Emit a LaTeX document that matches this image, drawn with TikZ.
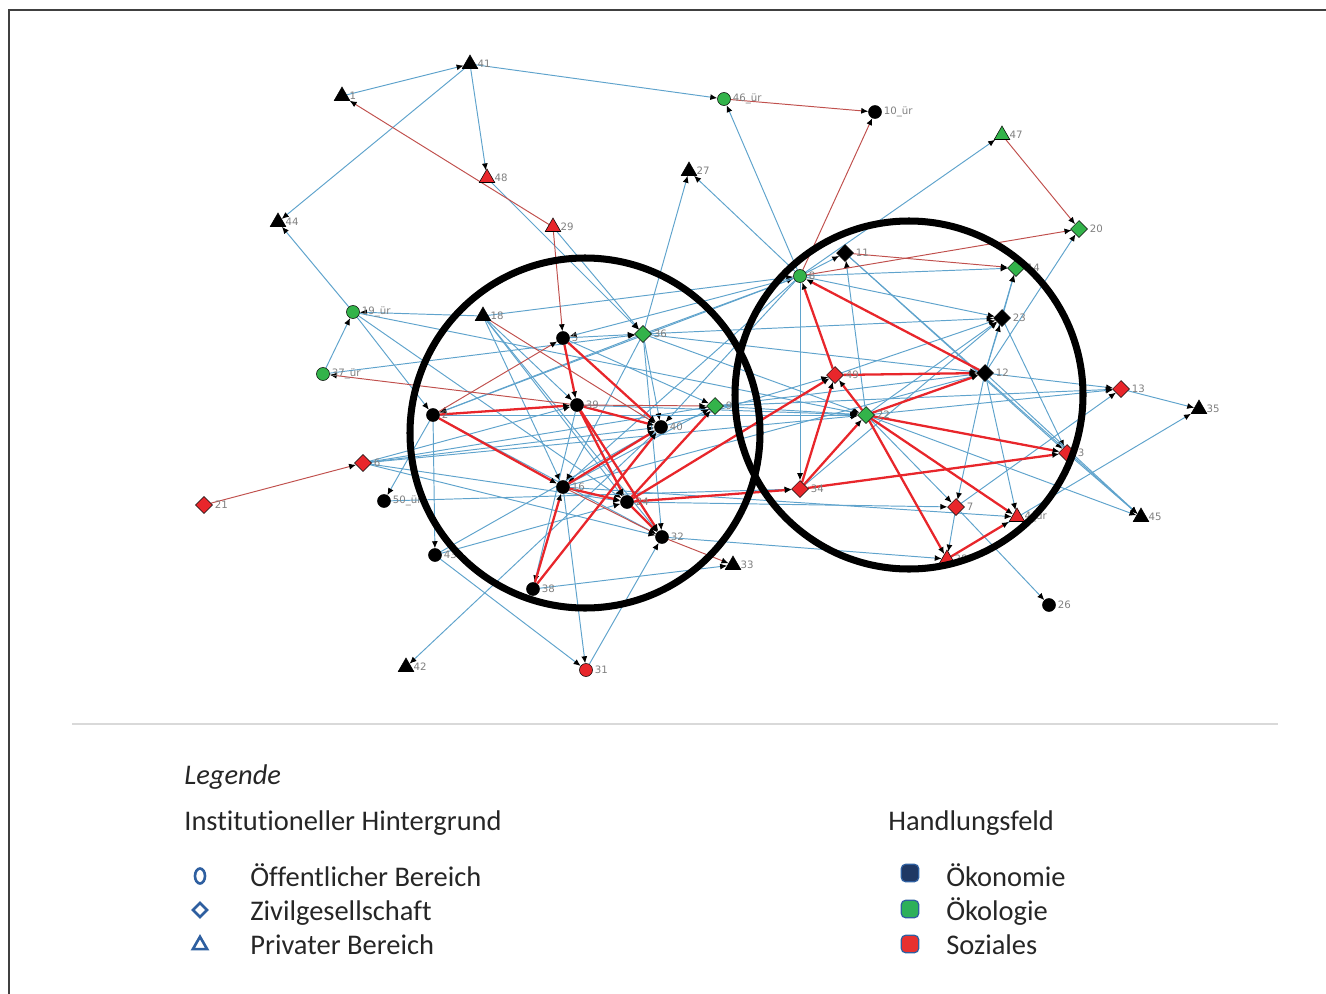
\documentclass[tikz,border=0pt]{standalone}
\usepackage{fontspec}
\setmainfont{Carlito}[Ligatures=CommonOff]
\newfontfamily\lblfont{DejaVu Sans}
\usepackage{xcolor}
\usepackage{tikz}
\usetikzlibrary{arrows.meta,positioning,calc,shapes.geometric}

\definecolor{edgeblue}{HTML}{5FA3CC}
\definecolor{thinred}{HTML}{C0504D}
\definecolor{strongred}{HTML}{E8262B}
\definecolor{nodegreen}{HTML}{33B34A}
\definecolor{nodered}{HTML}{E8262B}
\definecolor{legblue}{HTML}{2E5FA0}
\definecolor{legnavy}{HTML}{1F3864}
\definecolor{leggreen}{HTML}{2DB05A}
\definecolor{legred}{HTML}{E8302F}

\pgfdeclarelayer{edges}
\pgfdeclarelayer{rings}
\pgfsetlayers{edges,main,rings}

\tikzset{
	pub/.style={circle,draw=black,line width=0.3pt,inner sep=0pt,minimum size=0.26cm},
	civ/.style={diamond,draw=black,line width=0.3pt,inner sep=0pt,minimum size=0.34cm},
	priv/.style={regular polygon,regular polygon sides=3,draw=black,line width=0.3pt,inner sep=0pt,minimum size=0.36cm},
	eco/.style={fill=black},
	oeko/.style={fill=nodegreen},
	soz/.style={fill=nodered},
	lbl/.style={font=\lblfont\fontsize{5.8}{6}\selectfont,text=black!50,inner sep=1pt},
	tip/.style={-{Latex[length=1.4mm,width=1.2mm,color=black]}},
	bl/.style={tip,draw=edgeblue,line width=0.55pt},
	rd/.style={tip,draw=thinred,line width=0.55pt},
	rdd/.style={tip,draw=strongred,line width=1.3pt},
	legtxt/.style={anchor=base west,inner sep=0pt,font=\fontsize{16.2}{19}\selectfont,text=black!85},
	legbox/.style={draw=legblue,line width=0.7pt,rounded corners=2.5pt,minimum size=0.35cm,inner sep=0pt},
}

\begin{document}
\begin{tikzpicture}[x=0.02cm,y=-0.02cm]
	\useasboundingbox (0,0) rectangle (1326,994);
	
	% frame
	\draw[black!75,line width=0.8pt] (9,994)--(9,10)--(1326,10);
	
	% actors
	\foreach \nm/\px/\py/\shp/\fc/\txt in {
		n41/470/64/priv/eco/41, n1/342/96/priv/eco/1, n46/724/99/pub/oeko/46\_ür,
		n10/875/112/pub/eco/10\_ür, n47/1002/135/priv/oeko/47, n48/487/178/priv/soz/48,
		n27/689/171/priv/eco/27, n44/278/222/priv/eco/44, n29/553/227/priv/soz/29,
		n20/1079/229/civ/oeko/20, n11/845/253/civ/eco/11, n8/800/276/pub/oeko/8,
		n14/1016/268/civ/oeko/14, n19/353/312/pub/oeko/19\_ür, n18/483/316/priv/eco/18,
		n5/563/338/pub/eco/5, n36/643/334/civ/oeko/36, n23/1002/318/civ/eco/23,
		n37/323/374/pub/oeko/37\_ür, n49/835/375/civ/soz/49, n12/985/373/civ/eco/12,
		n13/1121/389/civ/soz/13, n35/1199/409/priv/eco/35, n39/577/405/pub/eco/39,
		n9/715/406/civ/oeko/9, n22/866/415/civ/oeko/22, n2/433/415/pub/eco/2,
		n40/661/427/pub/eco/40, n3/1067/453/civ/soz/3, n6/363/463/civ/soz/6,
		n21/204/505/civ/soz/21, n34/800/489/civ/soz/34, n16/563/487/pub/eco/16,
		n24/627/502/pub/eco/24, n50/384/501/pub/eco/50\_ür, n7/956/507/civ/soz/7,
		n4/1017/517/priv/soz/4\_ür, n45/1141/517/priv/eco/45, n32/662/537/pub/eco/32,
		n43/435/555/pub/eco/43, n33/733/565/priv/eco/33, n28/947/559/priv/soz/28,
		n38/533/589/pub/eco/38, n26/1049/605/pub/eco/26, n42/406/667/priv/eco/42,
		n31/586/670/pub/soz/31}{
		\node[\shp,\fc,label={[lbl]right:\txt}] (\nm) at (\px,\py) {};
	}
	
	\begin{pgfonlayer}{edges}
		% blue ties
		\foreach \a/\b in {n1/n41, n41/n46, n41/n48, n41/n44, n19/n44, n37/n19, n18/n19,
			n19/n2, n19/n24, n19/n22, n37/n36, n6/n39, n6/n40, n6/n24, n6/n32, n6/n9,
			n2/n50, n2/n43, n43/n31, n40/n42, n16/n31, n31/n32, n38/n33, n43/n24,
			n50/n34, n18/n16, n18/n39, n18/n24, n18/n32, n18/n8, n5/n36, n36/n8,
			n36/n40, n36/n32, n36/n2, n36/n16, n36/n22, n36/n12, n36/n23, n29/n36,
			n48/n36, n36/n27, n8/n27, n8/n46, n8/n47, n12/n20, n8/n11, n8/n14,
			n8/n23, n22/n11, n11/n3, n11/n45, n12/n14, n23/n14, n12/n23, n22/n23,
			n49/n23, n34/n23, n23/n3, n12/n13, n12/n7, n12/n4, n12/n45, n13/n35,
			n7/n13, n28/n35, n22/n45, n3/n45, n7/n26, n7/n28, n22/n7, n16/n4,
			n32/n28, n9/n13, n8/n2, n8/n5, n8/n16, n8/n40, n8/n34, n9/n12, n9/n22,
			n39/n22, n40/n49, n2/n22, n16/n12, n5/n9, n16/n9, n2/n32, n39/n38,
			n43/n40, n24/n7, n22/n13, n6/n22}{
			\draw[bl] (\a)--(\b);
		}
		% weak social ties
		\foreach \a/\b in {n46/n10, n8/n10, n47/n20, n8/n20, n11/n14, n39/n37,
			n21/n6, n29/n5, n2/n5, n18/n40, n32/n33, n16/n32, n39/n9}{
			\draw[rd] (\a)--(\b);
		}
		\draw[rd,{Latex[length=1.4mm,width=1.2mm,color=black]}-] (n1)--(n29);
		% strong social ties
		\foreach \a/\b in {n5/n39, n5/n40, n2/n39, n2/n16, n39/n40, n39/n24, n39/n32,
			n16/n40, n38/n40, n38/n16, n16/n24, n24/n32, n24/n9, n24/n34, n24/n49,
			n49/n8, n12/n8, n49/n12, n22/n12, n22/n49, n34/n49, n34/n22, n22/n3,
			n34/n3, n22/n4, n22/n28, n28/n4}{
			\draw[rdd] (\a)--(\b);
		}
	\end{pgfonlayer}
	
	% clusters
	\begin{pgfonlayer}{rings}
		\draw[line width=4pt] (585,433) circle [radius=175];
		\draw[line width=4pt] (909,395) circle [radius=174];
	\end{pgfonlayer}
	
	% legend
	\draw[black!15,line width=0.6pt] (72,724)--(1278,724);
	\node[legtxt,font=\itshape\fontsize{16.2}{19}\selectfont] (legtitle) at (184,784) {Legende};
	\node[legtxt] (leginst) at (184,830) {Institutioneller Hintergrund};
	\node[legtxt] (leghand) at (888,830) {Handlungsfeld};
	
	\node[ellipse,draw=legblue,line width=1.5pt,inner sep=0pt,minimum width=0.2cm,minimum height=0.3cm] (lgpub) at (200,876) {};
	\node[diamond,draw=legblue,line width=1.5pt,inner sep=0pt,minimum size=0.3cm] (lgciv) at (200,910) {};
	\node[regular polygon,regular polygon sides=3,draw=legblue,line width=1.5pt,inner sep=0pt,minimum size=0.33cm] (lgpriv) at (200,945) {};
	\node[legtxt] (txpub) at (250,886) {Öffentlicher Bereich};
	\node[legtxt] (txciv) at (250,920) {Zivilgesellschaft};
	\node[legtxt] (txpriv) at (250,954) {Privater Bereich};
	
	\node[legbox,fill=legnavy] (lgeco) at (910,873) {};
	\node[legbox,fill=leggreen] (lgoeko) at (910,909) {};
	\node[legbox,fill=legred] (lgsoz) at (910,944) {};
	\node[legtxt] (txeco) at (946,886) {Ökonomie};
	\node[legtxt] (txoeko) at (946,920) {Ökologie};
	\node[legtxt] (txsoz) at (946,954) {Soziales};
\end{tikzpicture}
\end{document}
